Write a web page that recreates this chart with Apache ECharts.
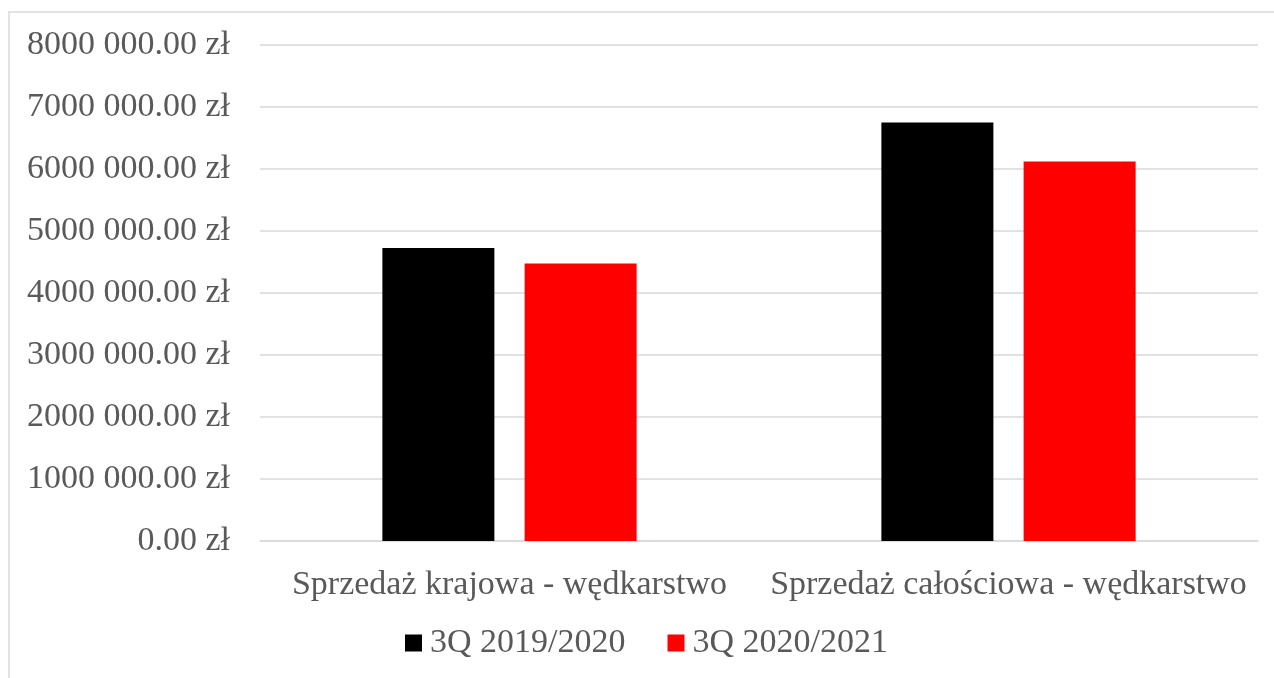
<!DOCTYPE html>
<html>
<head>
<meta charset="utf-8">
<script src="https://cdn.jsdelivr.net/npm/echarts@6/dist/echarts.min.js"></script>
<style>
  html, body { margin: 0; padding: 0; background: #fff; }
  #chart { width: 1274px; height: 678px; }
</style>
</head>
<body>
<div id="chart"></div>
<script>
const categories = ['Sprzedaż krajowa - wędkarstwo', 'Sprzedaż całościowa - wędkarstwo'];
const seriesNames = ['3Q 2019/2020', '3Q 2020/2021'];
const sales2019 = [4726000, 6748000];
const sales2020 = [4474000, 6119000];

const FONT = 'Liberation Serif';
const TEXT = '#595959';

// "8000 000.00 zł" style: only the last three digits are split off
function formatPln(v) {
  let s = String(Math.round(v));
  if (s.length > 3) s = s.slice(0, -3) + ' ' + s.slice(-3);
  return s + '.00 zł';
}

const chart = echarts.init(document.getElementById('chart'));
chart.setOption({
  animation: false,
  textStyle: { fontFamily: FONT },
  graphic: [{
    type: 'rect',
    shape: { x: 9, y: 12, width: 1400, height: 800 },
    style: { fill: 'none', stroke: '#d9d9d9', lineWidth: 1.5 },
    silent: true
  }],
  legend: {
    left: 400,
    top: 621,
    itemWidth: 17,
    itemHeight: 17,
    itemGap: 42,
    icon: 'rect',
    textStyle: { fontFamily: FONT, fontSize: 34, color: TEXT, padding: [0, 0, 0, 3] },
    data: seriesNames
  },
  grid: { left: 260, right: 16, top: 45, bottom: 137, containLabel: false },
  xAxis: {
    type: 'category',
    data: categories,
    axisLine: { show: true, lineStyle: { color: '#d9d9d9', width: 1.5 } },
    axisTick: { show: false },
    axisLabel: { interval: 0, fontFamily: FONT, fontSize: 34, color: TEXT, margin: 27 }
  },
  yAxis: {
    type: 'value',
    min: 0,
    max: 8000000,
    interval: 1000000,
    axisLine: { show: false },
    axisTick: { show: false },
    splitLine: { lineStyle: { color: '#d9d9d9', width: 1.5 } },
    axisLabel: { fontFamily: FONT, fontSize: 34, color: TEXT, margin: 30, formatter: formatPln }
  },
  series: [
    {
      name: seriesNames[0],
      type: 'bar',
      data: sales2019,
      itemStyle: { color: '#000000' },
      barWidth: 112,
      barGap: '27%'
    },
    {
      name: seriesNames[1],
      type: 'bar',
      data: sales2020,
      itemStyle: { color: '#ff0000' },
      barWidth: 112,
      barGap: '27%'
    }
  ]
});
</script>
</body>
</html>
